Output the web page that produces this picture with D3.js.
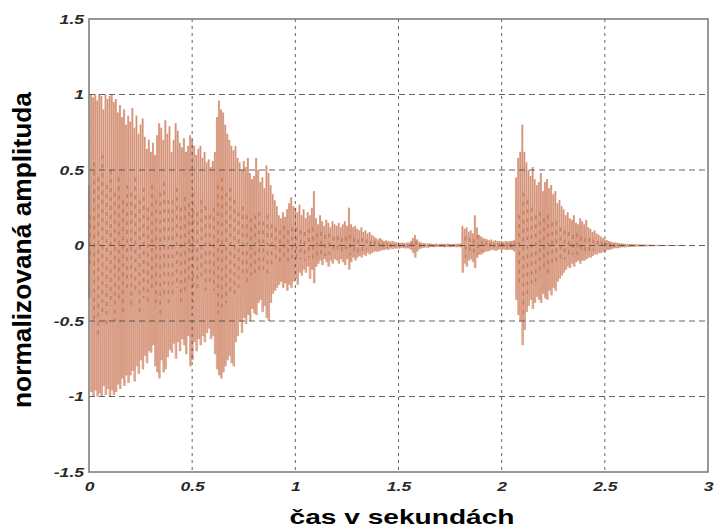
<!DOCTYPE html>
<html lang="sk">
<head>
<meta charset="UTF-8">
<title>normalizovaná amplituda</title>
<script src="https://d3js.org/d3.v7.min.js"></script>
<style>
  body { margin: 0; background: #fff; }
  svg { display: block; font-family: "Liberation Sans", Arial, sans-serif; }
  .tick text { font-size: 13px; font-weight: bold; font-style: italic; fill: #2a2a2a; }
  .axis-title { font-weight: bold; fill: #000; }
</style>
</head>
<body>
<svg width="715" height="529"></svg>
<script>
// envelope of the waveform, one min/max pair every 10 ms
const sampleStep = 0.01;
const envHi = [
  0.40, 1.00, 0.98, 1.00, 0.96, 1.00, 0.99, 0.90, 1.00, 0.97,
  0.99, 1.00, 0.95, 0.97, 0.88, 0.93, 0.85, 0.90, 0.80, 0.86,
  0.82, 0.91, 0.78, 0.86, 0.74, 0.80, 0.84, 0.72, 0.64, 0.70,
  0.62, 0.68, 0.60, 0.73, 0.81, 0.78, 0.70, 0.83, 0.74, 0.79,
  0.62, 0.70, 0.81, 0.76, 0.68, 0.65, 0.71, 0.62, 0.66, 0.73,
  0.70, 0.66, 0.60, 0.64, 0.66, 0.58, 0.62, 0.55, 0.57, 0.52,
  0.56, 0.62, 0.85, 0.96, 0.90, 0.88, 0.80, 0.74, 0.70, 0.66,
  0.63, 0.66, 0.58, 0.55, 0.50, 0.56, 0.52, 0.58, 0.48, 0.44,
  0.46, 0.58, 0.50, 0.42, 0.45, 0.38, 0.53, 0.48, 0.40, 0.34,
  0.30, 0.26, 0.20, 0.18, 0.22, 0.19, 0.24, 0.28, 0.32, 0.26,
  0.25, 0.22, 0.27, 0.20, 0.24, 0.18, 0.22, 0.20, 0.25, 0.36,
  0.18, 0.14, 0.20, 0.16, 0.13, 0.17, 0.15, 0.12, 0.16, 0.14,
  0.13, 0.15, 0.12, 0.14, 0.16, 0.13, 0.25, 0.14, 0.12, 0.13,
  0.11, 0.10, 0.12, 0.09, 0.10, 0.08, 0.09, 0.07, 0.06, 0.05,
  0.04, 0.05, 0.04, 0.03, 0.035, 0.03, 0.025, 0.03, 0.025, 0.02,
  0.02, 0.018, 0.02, 0.015, 0.02, 0.018, 0.03, 0.05, 0.07, 0.04,
  0.025, 0.02, 0.015, 0.015, 0.012, 0.015, 0.012, 0.01, 0.012, 0.01,
  0.01, 0.012, 0.01, 0.01, 0.012, 0.01, 0.01, 0.012, 0.01, 0.012,
  0.012, 0.13, 0.11, 0.12, 0.09, 0.10, 0.08, 0.20, 0.12, 0.07,
  0.06, 0.05, 0.045, 0.04, 0.035, 0.04, 0.03, 0.035, 0.03, 0.03,
  0.03, 0.025, 0.03, 0.025, 0.03, 0.03, 0.035, 0.45, 0.58, 0.62,
  0.80, 0.62, 0.55, 0.50, 0.46, 0.52, 0.44, 0.40, 0.42, 0.48,
  0.36, 0.42, 0.44, 0.38, 0.40, 0.34, 0.36, 0.28, 0.30, 0.26,
  0.24, 0.20, 0.22, 0.18, 0.17, 0.20, 0.15, 0.14, 0.18, 0.16,
  0.14, 0.17, 0.12, 0.11, 0.09, 0.10, 0.08, 0.07, 0.06, 0.05,
  0.04, 0.035, 0.03, 0.025, 0.02, 0.02, 0.018, 0.015, 0.015, 0.012,
  0.012, 0.01, 0.01, 0.01, 0.008, 0.008, 0.008, 0.007, 0.007, 0.006,
  0.006, 0.005, 0.005, 0.005, 0.004, 0.004, 0.004, 0.003, 0.003, 0.003,
  0.003, 0.003, 0.002, 0.002, 0.002, 0.002, 0.002, 0.002, 0.001, 0.001
];
const envLo = [
  -0.35, -0.97, -1.00, -0.96, -1.00, -0.98, -1.00, -0.93, -0.99, -0.95,
  -1.00, -0.96, -0.99, -0.97, -0.92, -0.95, -0.88, -0.93, -0.86, -0.91,
  -0.86, -0.83, -0.90, -0.80, -0.85, -0.76, -0.82, -0.73, -0.78, -0.70,
  -0.71, -0.66, -0.80, -0.84, -0.88, -0.76, -0.84, -0.82, -0.74, -0.69,
  -0.71, -0.65, -0.75, -0.64, -0.70, -0.62, -0.66, -0.72, -0.60, -0.80,
  -0.76, -0.64, -0.70, -0.62, -0.66, -0.60, -0.64, -0.58, -0.55, -0.62,
  -0.60, -0.72, -0.82, -0.86, -0.88, -0.84, -0.80, -0.76, -0.73, -0.78,
  -0.80, -0.64, -0.60, -0.50, -0.58, -0.48, -0.52, -0.46, -0.50, -0.42,
  -0.45, -0.46, -0.38, -0.36, -0.44, -0.40, -0.48, -0.50, -0.38, -0.32,
  -0.30, -0.28, -0.26, -0.24, -0.28, -0.25, -0.30, -0.26, -0.28, -0.24,
  -0.22, -0.26, -0.18, -0.20, -0.16, -0.18, -0.14, -0.22, -0.16, -0.25,
  -0.14, -0.12, -0.10, -0.13, -0.09, -0.11, -0.14, -0.10, -0.12, -0.09,
  -0.10, -0.12, -0.09, -0.11, -0.13, -0.09, -0.16, -0.11, -0.08, -0.10,
  -0.08, -0.07, -0.08, -0.06, -0.07, -0.05, -0.06, -0.05, -0.04, -0.04,
  -0.04, -0.035, -0.03, -0.03, -0.025, -0.03, -0.02, -0.025, -0.02, -0.02,
  -0.02, -0.018, -0.015, -0.02, -0.018, -0.02, -0.03, -0.05, -0.08, -0.04,
  -0.025, -0.018, -0.015, -0.012, -0.015, -0.012, -0.01, -0.012, -0.01, -0.01,
  -0.01, -0.01, -0.012, -0.01, -0.01, -0.012, -0.01, -0.01, -0.012, -0.01,
  -0.012, -0.18, -0.12, -0.14, -0.10, -0.09, -0.11, -0.15, -0.08, -0.06,
  -0.06, -0.05, -0.04, -0.04, -0.035, -0.03, -0.03, -0.035, -0.03, -0.025,
  -0.03, -0.025, -0.03, -0.03, -0.025, -0.03, -0.04, -0.36, -0.46, -0.50,
  -0.66, -0.56, -0.44, -0.40, -0.36, -0.42, -0.38, -0.34, -0.36, -0.38,
  -0.32, -0.35, -0.36, -0.30, -0.33, -0.28, -0.30, -0.24, -0.22, -0.20,
  -0.18, -0.16, -0.14, -0.15, -0.12, -0.14, -0.11, -0.10, -0.12, -0.10,
  -0.10, -0.09, -0.08, -0.08, -0.07, -0.06, -0.06, -0.05, -0.05, -0.04,
  -0.04, -0.03, -0.03, -0.025, -0.02, -0.018, -0.018, -0.015, -0.012, -0.012,
  -0.012, -0.01, -0.01, -0.009, -0.008, -0.008, -0.007, -0.007, -0.006, -0.006,
  -0.006, -0.005, -0.005, -0.005, -0.004, -0.004, -0.004, -0.003, -0.003, -0.003,
  -0.003, -0.003, -0.002, -0.002, -0.002, -0.002, -0.002, -0.002, -0.001, -0.001
];

// darker dense core of the signal, every 20 ms
const coreStep = 0.02;
const coreHi = [
  0.20, 0.55, 0.45, 0.60, 0.40, 0.50, 0.35, 0.45, 0.30, 0.40,
  0.35, 0.45, 0.30, 0.38, 0.25, 0.40, 0.30, 0.35, 0.42, 0.30,
  0.30, 0.38, 0.25, 0.32, 0.28, 0.35, 0.22, 0.30, 0.26, 0.20,
  0.25, 0.40, 0.45, 0.35, 0.38, 0.30, 0.22, 0.26, 0.20, 0.18,
  0.20, 0.22, 0.16, 0.20, 0.14, 0.12, 0.10, 0.13, 0.10, 0.12,
  0.12, 0.10, 0.09, 0.11, 0.12, 0.08, 0.09, 0.07, 0.08, 0.06,
  0.06, 0.05, 0.06, 0.07, 0.05, 0.04, 0.05, 0.04, 0.03, 0.03,
  0.02, 0.015, 0.015, 0.01, 0.01, 0.01, 0.01, 0.01, 0.02, 0.03,
  0.01, 0.008, 0.006, 0.006, 0.006, 0.006, 0.006, 0.006, 0.006, 0.006,
  0.006, 0.06, 0.05, 0.04, 0.07, 0.03, 0.025, 0.02, 0.015, 0.015,
  0.015, 0.015, 0.015, 0.02, 0.20, 0.35, 0.30, 0.25, 0.20, 0.22,
  0.18, 0.20, 0.15, 0.16, 0.12, 0.10, 0.09, 0.07, 0.08, 0.06,
  0.05, 0.05, 0.04, 0.03, 0.025, 0.02, 0.015, 0.01, 0.008, 0.006
];
const coreLo = [
  -0.15, -0.50, -0.60, -0.45, -0.55, -0.40, -0.50, -0.35, -0.45, -0.30,
  -0.40, -0.30, -0.45, -0.35, -0.40, -0.30, -0.38, -0.45, -0.35, -0.40,
  -0.35, -0.28, -0.40, -0.30, -0.25, -0.38, -0.30, -0.22, -0.30, -0.26,
  -0.30, -0.45, -0.42, -0.38, -0.32, -0.35, -0.28, -0.22, -0.25, -0.20,
  -0.18, -0.20, -0.16, -0.22, -0.14, -0.12, -0.11, -0.10, -0.12, -0.10,
  -0.10, -0.09, -0.10, -0.08, -0.10, -0.07, -0.06, -0.07, -0.06, -0.05,
  -0.05, -0.06, -0.05, -0.06, -0.04, -0.05, -0.04, -0.03, -0.03, -0.025,
  -0.02, -0.015, -0.012, -0.01, -0.01, -0.01, -0.01, -0.01, -0.025, -0.03,
  -0.01, -0.008, -0.006, -0.006, -0.006, -0.006, -0.006, -0.006, -0.006, -0.006,
  -0.006, -0.08, -0.06, -0.05, -0.06, -0.04, -0.03, -0.02, -0.015, -0.015,
  -0.015, -0.015, -0.015, -0.02, -0.25, -0.45, -0.32, -0.28, -0.24, -0.20,
  -0.16, -0.18, -0.14, -0.13, -0.10, -0.09, -0.08, -0.06, -0.06, -0.05,
  -0.05, -0.04, -0.035, -0.03, -0.02, -0.02, -0.015, -0.01, -0.008, -0.006
];

const xTicks = [0, 0.5, 1, 1.5, 2, 2.5, 3];
const yTicks = [-1.5, -1, -0.5, 0, 0.5, 1, 1.5];

const svg = d3.select("svg"),
    width = +svg.attr("width"),
    height = +svg.attr("height"),
    margin = { top: 19, right: 7, bottom: 57, left: 89 };

const x = d3.scaleLinear().domain([0, 3]).range([margin.left, width - margin.right]);
const y = d3.scaleLinear().domain([-1.5, 1.5]).range([height - margin.bottom, margin.top]);

const samples = envHi.map((h, i) => ({ t: i * sampleStep, hi: h, lo: envLo[i] }));
const core = coreHi.map((h, i) => ({ t: i * coreStep, hi: h, lo: coreLo[i] }));

// waveform: light min/max bars, a thin darker zigzag, then the dense core
const wave = svg.append("g");
wave.selectAll("line.env")
    .data(samples)
    .join("line")
    .attr("class", "env")
    .attr("x1", d => x(d.t)).attr("x2", d => x(d.t))
    .attr("y1", d => y(d.hi)).attr("y2", d => y(d.lo))
    .attr("stroke", "#e3ae98")
    .attr("stroke-width", 2.1);

const zig = [];
samples.forEach(d => { zig.push([d.t, d.hi]); zig.push([d.t + sampleStep / 2, d.lo]); });
wave.append("path")
    .attr("d", d3.line().x(d => x(d[0])).y(d => y(d[1]))(zig))
    .attr("fill", "none")
    .attr("stroke", "#c47a5e")
    .attr("stroke-opacity", 0.5)
    .attr("stroke-width", 0.7);

wave.selectAll("line.core")
    .data(core)
    .join("line")
    .attr("class", "core")
    .attr("x1", d => x(d.t + 0.005)).attr("x2", d => x(d.t + 0.005))
    .attr("y1", d => y(d.hi)).attr("y2", d => y(d.lo))
    .attr("stroke", "#a9502b")
    .attr("stroke-opacity", 0.45)
    .attr("stroke-width", 1.5)
    .attr("stroke-dasharray", "4,5");

// grid
const grid = svg.append("g").attr("stroke", "#4a4a4a").attr("stroke-width", 1).attr("stroke-opacity", 0.85);
grid.selectAll("line.h")
    .data(yTicks.slice(1, -1))
    .join("line")
    .attr("x1", x(0)).attr("x2", x(3))
    .attr("y1", d => y(d)).attr("y2", d => y(d))
    .attr("stroke-dasharray", "6,4");
grid.selectAll("line.v")
    .data(xTicks.slice(1, -1))
    .join("line")
    .attr("x1", d => x(d)).attr("x2", d => x(d))
    .attr("y1", y(1.5)).attr("y2", y(-1.5))
    .attr("stroke-dasharray", "3,4");

// frame
svg.append("rect")
    .attr("x", x(0)).attr("y", y(1.5))
    .attr("width", x(3) - x(0)).attr("height", y(-1.5) - y(1.5))
    .attr("fill", "none")
    .attr("stroke", "#777")
    .attr("stroke-width", 1.5);

// tick labels (the picture is stretched sideways, so widen the glyphs)
function widen(sel, k) {
    sel.selectAll(".tick text").each(function () {
        const len = this.getComputedTextLength();
        d3.select(this).attr("textLength", len * k).attr("lengthAdjust", "spacingAndGlyphs");
    });
}

const gx = svg.append("g")
    .attr("transform", `translate(0,${y(-1.5)})`)
    .call(d3.axisBottom(x).tickValues(xTicks).tickSize(0).tickPadding(10).tickFormat(d => String(d)));
gx.select(".domain").remove();
gx.selectAll(".tick text").attr("font-size", null).attr("font-family", null);
widen(gx, 1.35);

const gy = svg.append("g")
    .attr("transform", `translate(${x(0)},0)`)
    .call(d3.axisLeft(y).tickValues(yTicks).tickSize(0).tickPadding(5).tickFormat(d => String(d)));
gy.select(".domain").remove();
gy.selectAll(".tick text").attr("font-size", null).attr("font-family", null);
widen(gy, 1.35);

svg.append("text")
    .attr("class", "axis-title")
    .attr("x", 402).attr("y", 524)
    .attr("text-anchor", "middle")
    .attr("font-size", 21)
    .attr("textLength", 225)
    .attr("lengthAdjust", "spacingAndGlyphs")
    .text("čas v sekundách");

svg.append("text")
    .attr("class", "axis-title")
    .attr("transform", "translate(31,250) rotate(-90)")
    .attr("text-anchor", "middle")
    .attr("font-size", 26)
    .attr("textLength", 316)
    .attr("lengthAdjust", "spacingAndGlyphs")
    .text("normalizovaná amplituda");
</script>
</body>
</html>
